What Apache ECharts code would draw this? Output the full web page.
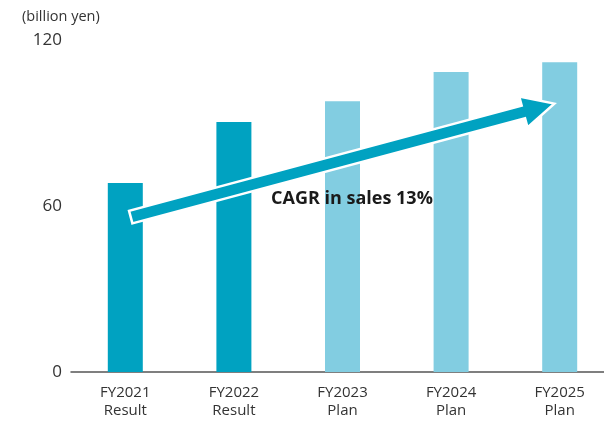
<!DOCTYPE html>
<html>
<head>
<meta charset="utf-8">
<script src="https://cdn.jsdelivr.net/npm/echarts@6/dist/echarts.min.js"></script>
<style>
html,body{margin:0;padding:0;background:#fff;}
#c{width:604px;height:421px;}
</style>
</head>
<body>
<div id="c"></div>
<script>
const categories = ['FY2021\nResult', 'FY2022\nResult', 'FY2023\nPlan', 'FY2024\nPlan', 'FY2025\nPlan'];
const sales = [68.3, 90.4, 97.9, 108.4, 112.0];
const isResult = [true, true, false, false, false];
const yTicks = [0, 60, 120];
const unitLabel = '(billion yen)';
const cagrText = 'CAGR in sales 13%';
const arrowFrom = [0.05, 56];
const arrowTo = [3.95, 97];

const DARK = '#00A2C1';
const LIGHT = '#82CDE1';

const chart = echarts.init(document.getElementById('c'), null, {renderer: 'canvas'});
const option = {
  animation: false,
  backgroundColor: '#fff',
  grid: {left: 71, right: -10, top: 40, bottom: 49, outerBoundsMode: 'none', containLabel: false},
  xAxis: {
    type: 'category',
    data: categories,
    axisLine: {lineStyle: {color: '#555', width: 1.5}},
    axisTick: {show: false},
    axisLabel: {color: '#333', fontSize: 15, lineHeight: 18.5, margin: 11, fontFamily: 'Open Sans'}
  },
  yAxis: {
    type: 'value',
    min: yTicks[0],
    max: yTicks[yTicks.length - 1],
    interval: yTicks[1] - yTicks[0],
    axisLine: {show: false},
    axisTick: {show: false},
    splitLine: {show: false},
    axisLabel: {color: '#333', fontSize: 17, margin: 9, fontFamily: 'Open Sans', padding: [4, 0, 0, 0]}
  },
  series: [{
    type: 'bar',
    barWidth: 35,
    data: sales.map((v, i) => ({value: v, itemStyle: {color: isResult[i] ? DARK : LIGHT}}))
  }]
};
chart.setOption(option);

function toPixel(pt) {
  const i = Math.floor(pt[0]);
  const a = chart.convertToPixel({gridIndex: 0}, [i, pt[1]]);
  const b = chart.convertToPixel({gridIndex: 0}, [Math.min(i + 1, categories.length - 1), pt[1]]);
  const band = (i + 1 < categories.length) ? (b[0] - a[0]) : (a[0] - chart.convertToPixel({gridIndex: 0}, [i - 1, pt[1]])[0]);
  return [a[0] + (pt[0] - i) * band, a[1]];
}

function drawAnnotations() {
  const p0 = toPixel(arrowFrom);
  const p1 = toPixel(arrowTo);
  const dx = p1[0] - p0[0], dy = p1[1] - p0[1];
  const len = Math.sqrt(dx * dx + dy * dy);
  const ux = dx / len, uy = dy / len;
  const nx = -uy, ny = ux;
  const h = 6.5, H = 16, L = 32;
  const bx = p1[0] - ux * L, by = p1[1] - uy * L;
  const pts = [
    [p0[0] + nx * h, p0[1] + ny * h],
    [bx + nx * h, by + ny * h],
    [bx + nx * H, by + ny * H],
    [p1[0], p1[1]],
    [bx - nx * H, by - ny * H],
    [bx - nx * h, by - ny * h],
    [p0[0] - nx * h, p0[1] - ny * h]
  ];
  chart.setOption({
    graphic: [
      {
        type: 'polygon',
        shape: {points: pts},
        style: {fill: DARK, stroke: '#fff', lineWidth: 2.5, lineJoin: 'miter'},
        z: 10
      },
      {
        type: 'text',
        x: 271,
        y: 199,
        style: {text: cagrText, fill: '#1a1a1a', font: 'bold 18px "Open Sans"', verticalAlign: 'middle'},
        z: 11
      },
      {
        type: 'text',
        x: 22,
        y: 17,
        style: {text: unitLabel, fill: '#333', font: '14.5px "Open Sans"', verticalAlign: 'middle'},
        z: 11
      }
    ]
  });
}
drawAnnotations();
</script>
</body>
</html>
